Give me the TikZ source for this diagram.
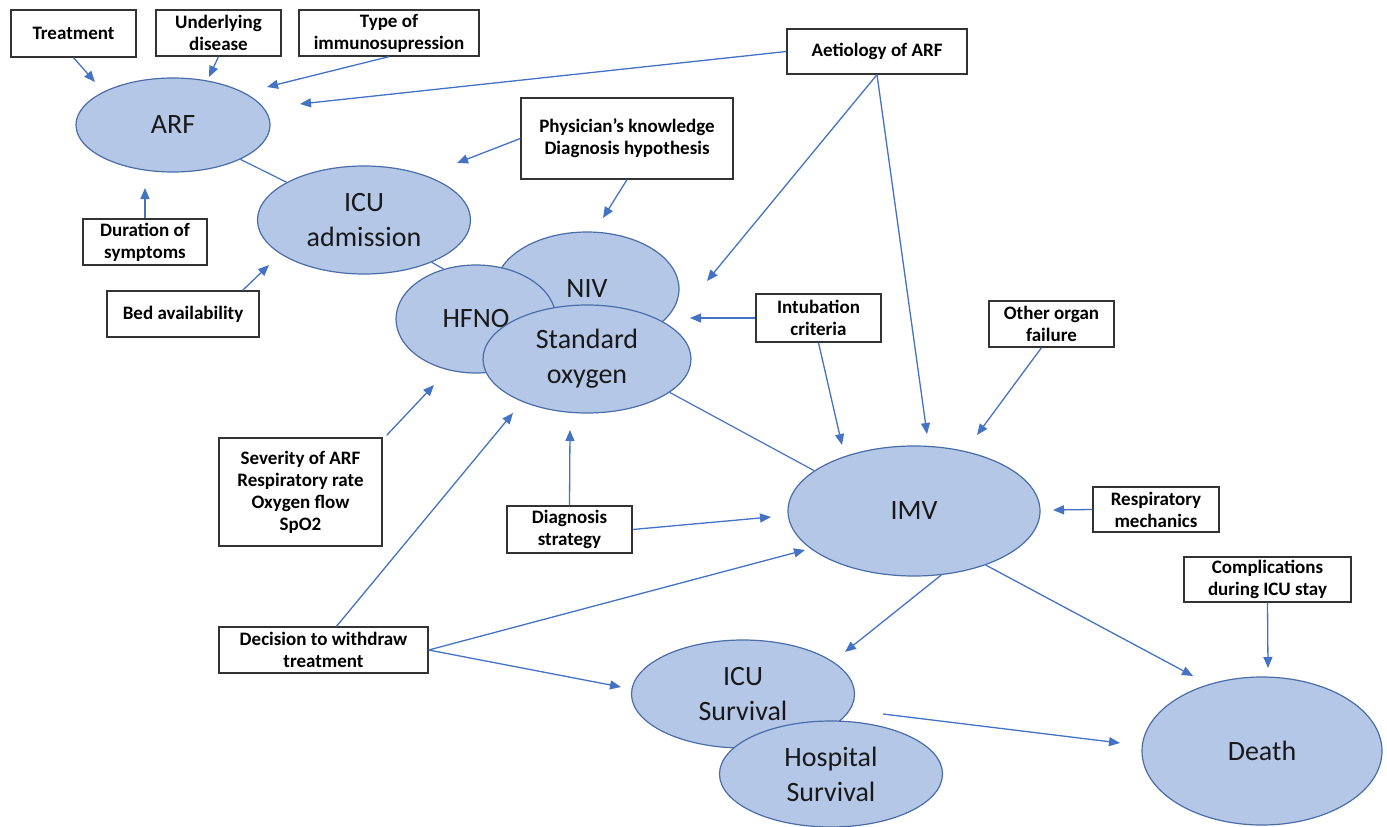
\documentclass[tikz,border=0pt]{standalone}
\usepackage{fontspec}
\setmainfont{Carlito}
\usetikzlibrary{arrows.meta,shapes.geometric}
\definecolor{ellfill}{HTML}{B4C7E7}
\definecolor{elldraw}{HTML}{4A6DA7}
\definecolor{arrowc}{HTML}{4472C4}
\definecolor{boxdraw}{HTML}{333333}
\tikzset{
  box/.style={draw=boxdraw, fill=white, line width=1.3pt, align=center,
    font=\fontsize{19}{22}\selectfont\bfseries, inner sep=0pt},
  ell/.style={ellipse, draw=elldraw, fill=ellfill, line width=1.2pt, align=center,
    font=\fontsize{28}{35}\selectfont, text=black!90, inner sep=0pt},
  arr/.style={draw=arrowc, line width=1.3pt, -{Triangle[length=11pt,width=9pt]}},
  con/.style={draw=arrowc, line width=1.2pt},
}
\begin{document}
\begin{tikzpicture}[x=1pt,y=-1pt]
\useasboundingbox (0,0) rectangle (1387,827);
% ellipses
\node[ell, minimum width=194, minimum height=94] (arf) at (173,125) {ARF};
\node[ell, minimum width=213, minimum height=108] (icu) at (364,220) {ICU\\admission};
\node[ell, minimum width=184, minimum height=114] (niv) at (587,289) {NIV};
\node[ell, minimum width=160, minimum height=108] (hfno) at (476,319) {HFNO};
\node[ell, minimum width=208, minimum height=108] (std) at (587,359) {Standard\\oxygen};
\node[ell, minimum width=252, minimum height=130] (imv) at (914,511) {IMV};
\node[ell, minimum width=223, minimum height=108] (icus) at (743,694) {ICU\\Survival};
\node[ell, minimum width=223, minimum height=106] (hosp) at (831,774) {Hospital\\Survival};
\node[ell, minimum width=240, minimum height=148] (death) at (1262,751) {Death};
% boxes
\node[box, minimum width=125, minimum height=47] (treat) at (73.5,33.5) {Treatment};
\node[box, minimum width=125, minimum height=46] (under) at (218.5,33) {Underlying\\disease};
\node[box, minimum width=180, minimum height=46] (immuno) at (389,33) {Type of\\immunosupression};
\node[box, minimum width=180, minimum height=45] (aetio) at (877,51.5) {Aetiology of ARF};
\node[box, minimum width=212, minimum height=81] (phys) at (627,138.5) {Physician’s knowledge\\Diagnosis hypothesis};
\node[box, minimum width=124, minimum height=46] (dur) at (145,242) {Duration of\\symptoms};
\node[box, minimum width=152, minimum height=46] (bed) at (183,314) {Bed availability};
\node[box, minimum width=125, minimum height=48] (intub) at (818.5,318) {Intubation\\criteria};
\node[box, minimum width=125, minimum height=46] (organ) at (1051.5,324) {Other organ\\failure};
\node[box, minimum width=163, minimum height=108] (sev) at (300.5,492) {Severity of ARF\\Respiratory rate\\Oxygen flow\\SpO2};
\node[box, minimum width=125, minimum height=47] (diag) at (569.5,529.5) {Diagnosis\\strategy};
\node[box, minimum width=126, minimum height=45] (resp) at (1156,509.5) {Respiratory\\mechanics};
\node[box, minimum width=167, minimum height=45] (comp) at (1267.5,579.5) {Complications\\during ICU stay};
\node[box, minimum width=209, minimum height=46] (decis) at (323.5,650) {Decision to withdraw\\treatment};
% arrow tip coordinates
\coordinate (tTreat) at (95,82);
\coordinate (tUnder) at (209,77);
\coordinate (tImmuno) at (267,87);
\coordinate (tAetArf) at (300,104);
\coordinate (tPhysIcu) at (457,163);
\coordinate (tPhysNiv) at (603,218);
\coordinate (tDur) at (145,188);
\coordinate (tBed) at (269,265);
\coordinate (tAetNiv) at (707,281);
\coordinate (tAetImv) at (927,434);
\coordinate (tIntL) at (690,318);
\coordinate (tIntImv) at (842,445);
\coordinate (tOrg) at (977,435);
\coordinate (tSev) at (434,385);
\coordinate (tDecStd) at (513,413);
\coordinate (tDiagUp) at (570,430);
\coordinate (tDiagImv) at (771,517);
\coordinate (tResp) at (1053,510);
\coordinate (tDecImv) at (805,550);
\coordinate (tDecIcus) at (621,687);
\coordinate (tImvIcus) at (845,652);
\coordinate (tImvDeath) at (1193,676);
\coordinate (tIcusDeath) at (1120,743);
\coordinate (tComp) at (1268,668);
% plain connectors
\draw[con] (arf.-27) -- (icu.154);
\draw[con] (icu.-32) -- (hfno.123);
\draw[con] (std.-22) -- (imv.158);
% arrows
\draw[arr] (treat.south) -- (tTreat);
\draw[arr] (under.south) -- (tUnder);
\draw[arr] (immuno.south) -- (tImmuno);
\draw[arr] (aetio.west) -- (tAetArf);
\draw[arr] (phys.west) -- (tPhysIcu);
\draw[arr] (phys.south) -- (tPhysNiv);
\draw[arr] (dur.north) -- (tDur);
\draw[arr] ([xshift=-17pt]bed.north east) -- (tBed);
\draw[arr] (aetio.south) -- (tAetNiv);
\draw[arr] (aetio.south) -- (tAetImv);
\draw[arr] (intub.west) -- (tIntL);
\draw[arr] (intub.south) -- (tIntImv);
\draw[arr] ([xshift=-10pt]organ.south) -- (tOrg);
\draw[arr] ([xshift=4pt,yshift=2pt]sev.north east) -- (tSev);
\draw[arr] ([xshift=13pt]decis.north) -- (tDecStd);
\draw[arr] (diag.north) -- (tDiagUp);
\draw[arr] (diag.east) -- (tDiagImv);
\draw[arr] (resp.west) -- (tResp);
\draw[arr] (decis.east) -- (tDecImv);
\draw[arr] (decis.east) -- (tDecIcus);
\draw[arr] (imv.-67) -- (tImvIcus);
\draw[arr] (imv.-37) -- (tImvDeath);
\draw[arr] ([xshift=28pt,yshift=-20pt]icus.east) -- (tIcusDeath);
\draw[arr] (comp.south) -- (tComp);
\end{tikzpicture}
\end{document}
